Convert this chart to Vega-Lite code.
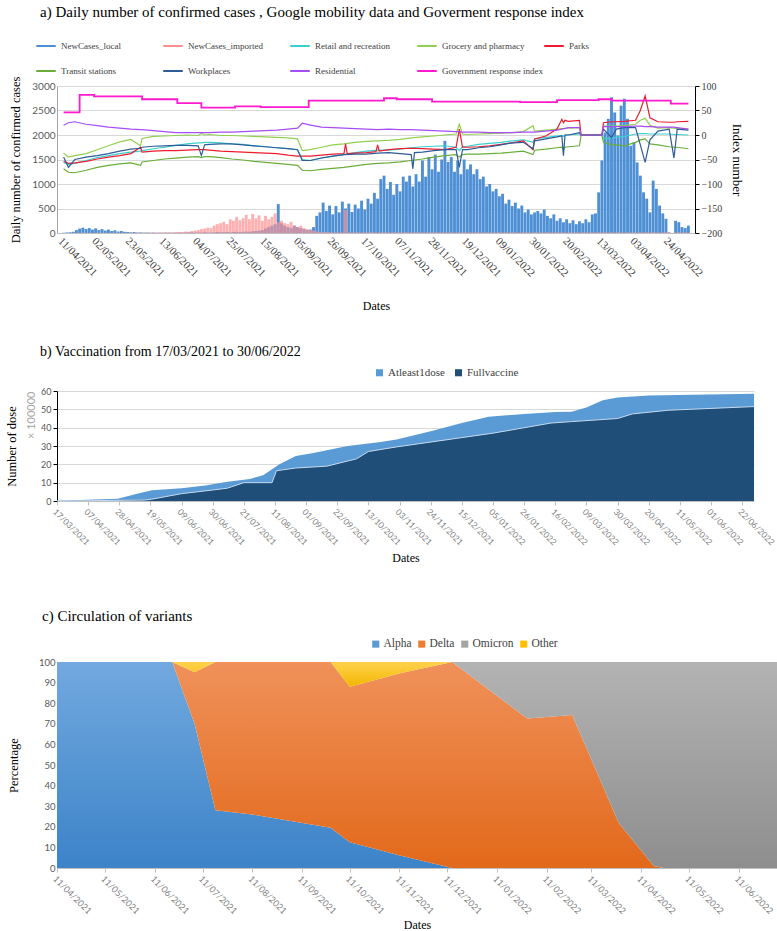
{
"$schema": "https://vega.github.io/schema/vega-lite/v6.json",
"background": "white",
"padding": {"left": 5, "top": 5, "right": 0, "bottom": 0},
"config": {
  "view": {"stroke": null},
  "font": "Liberation Serif",
  "axis": {"labelFont": "Lato", "labelColor": "#595959", "titleFont": "Liberation Serif", "titleFontWeight": "normal", "titleColor": "#000000", "gridColor": "#D9D9D9", "domainColor": "#BFBFBF", "tickColor": "#BFBFBF", "labelFlush": false, "labelOverlap": false},
  "legend": {"labelFont": "Liberation Serif", "labelColor": "#404040"},
  "title": {"font": "Liberation Serif", "fontWeight": "normal", "anchor": "start", "color": "#000000"}
},
"datasets": {
"cases": [
{"date":"2021-04-11","NewCases_local":5,"NewCases_imported":0},
{"date":"2021-04-13","NewCases_local":10,"NewCases_imported":3},
{"date":"2021-04-15","NewCases_local":15,"NewCases_imported":0},
{"date":"2021-04-17","NewCases_local":25,"NewCases_imported":5},
{"date":"2021-04-19","NewCases_local":60,"NewCases_imported":2},
{"date":"2021-04-21","NewCases_local":90,"NewCases_imported":4},
{"date":"2021-04-23","NewCases_local":110,"NewCases_imported":6},
{"date":"2021-04-25","NewCases_local":80,"NewCases_imported":3},
{"date":"2021-04-27","NewCases_local":100,"NewCases_imported":5},
{"date":"2021-04-29","NewCases_local":70,"NewCases_imported":2},
{"date":"2021-05-01","NewCases_local":95,"NewCases_imported":4},
{"date":"2021-05-03","NewCases_local":60,"NewCases_imported":6},
{"date":"2021-05-05","NewCases_local":80,"NewCases_imported":3},
{"date":"2021-05-07","NewCases_local":50,"NewCases_imported":5},
{"date":"2021-05-09","NewCases_local":70,"NewCases_imported":2},
{"date":"2021-05-11","NewCases_local":40,"NewCases_imported":4},
{"date":"2021-05-13","NewCases_local":55,"NewCases_imported":3},
{"date":"2021-05-15","NewCases_local":30,"NewCases_imported":5},
{"date":"2021-05-17","NewCases_local":40,"NewCases_imported":2},
{"date":"2021-05-19","NewCases_local":25,"NewCases_imported":4},
{"date":"2021-05-21","NewCases_local":20,"NewCases_imported":3},
{"date":"2021-05-23","NewCases_local":15,"NewCases_imported":5},
{"date":"2021-05-25","NewCases_local":20,"NewCases_imported":6},
{"date":"2021-05-27","NewCases_local":10,"NewCases_imported":4},
{"date":"2021-05-29","NewCases_local":12,"NewCases_imported":8},
{"date":"2021-05-31","NewCases_local":8,"NewCases_imported":5},
{"date":"2021-06-02","NewCases_local":10,"NewCases_imported":6},
{"date":"2021-06-04","NewCases_local":6,"NewCases_imported":8},
{"date":"2021-06-06","NewCases_local":8,"NewCases_imported":10},
{"date":"2021-06-08","NewCases_local":5,"NewCases_imported":8},
{"date":"2021-06-10","NewCases_local":6,"NewCases_imported":10},
{"date":"2021-06-12","NewCases_local":5,"NewCases_imported":12},
{"date":"2021-06-14","NewCases_local":8,"NewCases_imported":10},
{"date":"2021-06-16","NewCases_local":5,"NewCases_imported":14},
{"date":"2021-06-18","NewCases_local":6,"NewCases_imported":12},
{"date":"2021-06-20","NewCases_local":8,"NewCases_imported":15},
{"date":"2021-06-22","NewCases_local":10,"NewCases_imported":18},
{"date":"2021-06-24","NewCases_local":8,"NewCases_imported":20},
{"date":"2021-06-26","NewCases_local":10,"NewCases_imported":30},
{"date":"2021-06-28","NewCases_local":12,"NewCases_imported":25},
{"date":"2021-06-30","NewCases_local":15,"NewCases_imported":40},
{"date":"2021-07-02","NewCases_local":10,"NewCases_imported":50},
{"date":"2021-07-04","NewCases_local":12,"NewCases_imported":60},
{"date":"2021-07-06","NewCases_local":10,"NewCases_imported":80},
{"date":"2021-07-08","NewCases_local":15,"NewCases_imported":90},
{"date":"2021-07-10","NewCases_local":12,"NewCases_imported":110},
{"date":"2021-07-12","NewCases_local":10,"NewCases_imported":100},
{"date":"2021-07-14","NewCases_local":15,"NewCases_imported":150},
{"date":"2021-07-16","NewCases_local":20,"NewCases_imported":180},
{"date":"2021-07-18","NewCases_local":15,"NewCases_imported":200},
{"date":"2021-07-20","NewCases_local":18,"NewCases_imported":230},
{"date":"2021-07-22","NewCases_local":20,"NewCases_imported":180},
{"date":"2021-07-24","NewCases_local":15,"NewCases_imported":280},
{"date":"2021-07-26","NewCases_local":20,"NewCases_imported":250},
{"date":"2021-07-28","NewCases_local":25,"NewCases_imported":330},
{"date":"2021-07-30","NewCases_local":20,"NewCases_imported":260},
{"date":"2021-08-01","NewCases_local":25,"NewCases_imported":300},
{"date":"2021-08-03","NewCases_local":30,"NewCases_imported":370},
{"date":"2021-08-05","NewCases_local":25,"NewCases_imported":280},
{"date":"2021-08-07","NewCases_local":35,"NewCases_imported":390},
{"date":"2021-08-09","NewCases_local":40,"NewCases_imported":300},
{"date":"2021-08-11","NewCases_local":50,"NewCases_imported":360},
{"date":"2021-08-13","NewCases_local":60,"NewCases_imported":250},
{"date":"2021-08-15","NewCases_local":90,"NewCases_imported":350},
{"date":"2021-08-17","NewCases_local":120,"NewCases_imported":280},
{"date":"2021-08-19","NewCases_local":150,"NewCases_imported":330},
{"date":"2021-08-21","NewCases_local":180,"NewCases_imported":400},
{"date":"2021-08-23","NewCases_local":590,"NewCases_imported":220},
{"date":"2021-08-25","NewCases_local":200,"NewCases_imported":250},
{"date":"2021-08-27","NewCases_local":150,"NewCases_imported":200},
{"date":"2021-08-29","NewCases_local":120,"NewCases_imported":180},
{"date":"2021-08-31","NewCases_local":100,"NewCases_imported":230},
{"date":"2021-09-02","NewCases_local":150,"NewCases_imported":150},
{"date":"2021-09-04","NewCases_local":120,"NewCases_imported":120},
{"date":"2021-09-06","NewCases_local":100,"NewCases_imported":150},
{"date":"2021-09-08","NewCases_local":80,"NewCases_imported":100},
{"date":"2021-09-10","NewCases_local":60,"NewCases_imported":80},
{"date":"2021-09-12","NewCases_local":70,"NewCases_imported":60},
{"date":"2021-09-14","NewCases_local":120,"NewCases_imported":50},
{"date":"2021-09-16","NewCases_local":350,"NewCases_imported":30},
{"date":"2021-09-18","NewCases_local":420,"NewCases_imported":20},
{"date":"2021-09-20","NewCases_local":620,"NewCases_imported":15},
{"date":"2021-09-22","NewCases_local":450,"NewCases_imported":20},
{"date":"2021-09-24","NewCases_local":560,"NewCases_imported":15},
{"date":"2021-09-26","NewCases_local":380,"NewCases_imported":10},
{"date":"2021-09-28","NewCases_local":550,"NewCases_imported":12},
{"date":"2021-09-30","NewCases_local":420,"NewCases_imported":10},
{"date":"2021-10-02","NewCases_local":640,"NewCases_imported":15},
{"date":"2021-10-04","NewCases_local":500,"NewCases_imported":470},
{"date":"2021-10-06","NewCases_local":600,"NewCases_imported":10},
{"date":"2021-10-08","NewCases_local":430,"NewCases_imported":12},
{"date":"2021-10-10","NewCases_local":580,"NewCases_imported":8},
{"date":"2021-10-12","NewCases_local":500,"NewCases_imported":14},
{"date":"2021-10-14","NewCases_local":660,"NewCases_imported":10},
{"date":"2021-10-16","NewCases_local":480,"NewCases_imported":12},
{"date":"2021-10-18","NewCases_local":700,"NewCases_imported":9},
{"date":"2021-10-20","NewCases_local":600,"NewCases_imported":15},
{"date":"2021-10-22","NewCases_local":820,"NewCases_imported":11},
{"date":"2021-10-24","NewCases_local":700,"NewCases_imported":8},
{"date":"2021-10-26","NewCases_local":1100,"NewCases_imported":13},
{"date":"2021-10-28","NewCases_local":1170,"NewCases_imported":10},
{"date":"2021-10-30","NewCases_local":900,"NewCases_imported":12},
{"date":"2021-11-01","NewCases_local":1040,"NewCases_imported":9},
{"date":"2021-11-03","NewCases_local":780,"NewCases_imported":14},
{"date":"2021-11-05","NewCases_local":1000,"NewCases_imported":10},
{"date":"2021-11-07","NewCases_local":850,"NewCases_imported":12},
{"date":"2021-11-09","NewCases_local":1150,"NewCases_imported":8},
{"date":"2021-11-11","NewCases_local":1050,"NewCases_imported":15},
{"date":"2021-11-13","NewCases_local":1170,"NewCases_imported":11},
{"date":"2021-11-15","NewCases_local":950,"NewCases_imported":9},
{"date":"2021-11-17","NewCases_local":1200,"NewCases_imported":13},
{"date":"2021-11-19","NewCases_local":1050,"NewCases_imported":10},
{"date":"2021-11-21","NewCases_local":1480,"NewCases_imported":12},
{"date":"2021-11-23","NewCases_local":1150,"NewCases_imported":8},
{"date":"2021-11-25","NewCases_local":1550,"NewCases_imported":14},
{"date":"2021-11-27","NewCases_local":1300,"NewCases_imported":10},
{"date":"2021-11-29","NewCases_local":1600,"NewCases_imported":12},
{"date":"2021-12-01","NewCases_local":1250,"NewCases_imported":9},
{"date":"2021-12-03","NewCases_local":1500,"NewCases_imported":15},
{"date":"2021-12-05","NewCases_local":1880,"NewCases_imported":11},
{"date":"2021-12-07","NewCases_local":1450,"NewCases_imported":8},
{"date":"2021-12-09","NewCases_local":1550,"NewCases_imported":13},
{"date":"2021-12-11","NewCases_local":1250,"NewCases_imported":10},
{"date":"2021-12-13","NewCases_local":1480,"NewCases_imported":12},
{"date":"2021-12-15","NewCases_local":1200,"NewCases_imported":9},
{"date":"2021-12-17","NewCases_local":1500,"NewCases_imported":14},
{"date":"2021-12-19","NewCases_local":1300,"NewCases_imported":10},
{"date":"2021-12-21","NewCases_local":1400,"NewCases_imported":12},
{"date":"2021-12-23","NewCases_local":1200,"NewCases_imported":8},
{"date":"2021-12-25","NewCases_local":1300,"NewCases_imported":15},
{"date":"2021-12-27","NewCases_local":1100,"NewCases_imported":11},
{"date":"2021-12-29","NewCases_local":1150,"NewCases_imported":9},
{"date":"2021-12-31","NewCases_local":950,"NewCases_imported":13},
{"date":"2022-01-02","NewCases_local":1000,"NewCases_imported":10},
{"date":"2022-01-04","NewCases_local":850,"NewCases_imported":12},
{"date":"2022-01-06","NewCases_local":900,"NewCases_imported":8},
{"date":"2022-01-08","NewCases_local":750,"NewCases_imported":14},
{"date":"2022-01-10","NewCases_local":800,"NewCases_imported":10},
{"date":"2022-01-12","NewCases_local":600,"NewCases_imported":12},
{"date":"2022-01-14","NewCases_local":680,"NewCases_imported":9},
{"date":"2022-01-16","NewCases_local":550,"NewCases_imported":15},
{"date":"2022-01-18","NewCases_local":620,"NewCases_imported":11},
{"date":"2022-01-20","NewCases_local":500,"NewCases_imported":8},
{"date":"2022-01-22","NewCases_local":560,"NewCases_imported":13},
{"date":"2022-01-24","NewCases_local":420,"NewCases_imported":10},
{"date":"2022-01-26","NewCases_local":480,"NewCases_imported":12},
{"date":"2022-01-28","NewCases_local":380,"NewCases_imported":9},
{"date":"2022-01-30","NewCases_local":420,"NewCases_imported":14},
{"date":"2022-02-01","NewCases_local":450,"NewCases_imported":10},
{"date":"2022-02-03","NewCases_local":400,"NewCases_imported":12},
{"date":"2022-02-05","NewCases_local":480,"NewCases_imported":8},
{"date":"2022-02-07","NewCases_local":350,"NewCases_imported":15},
{"date":"2022-02-09","NewCases_local":300,"NewCases_imported":11},
{"date":"2022-02-11","NewCases_local":380,"NewCases_imported":9},
{"date":"2022-02-13","NewCases_local":250,"NewCases_imported":13},
{"date":"2022-02-15","NewCases_local":300,"NewCases_imported":10},
{"date":"2022-02-17","NewCases_local":220,"NewCases_imported":12},
{"date":"2022-02-19","NewCases_local":280,"NewCases_imported":8},
{"date":"2022-02-21","NewCases_local":200,"NewCases_imported":14},
{"date":"2022-02-23","NewCases_local":260,"NewCases_imported":10},
{"date":"2022-02-25","NewCases_local":180,"NewCases_imported":12},
{"date":"2022-02-27","NewCases_local":240,"NewCases_imported":9},
{"date":"2022-03-01","NewCases_local":200,"NewCases_imported":15},
{"date":"2022-03-03","NewCases_local":280,"NewCases_imported":11},
{"date":"2022-03-05","NewCases_local":220,"NewCases_imported":8},
{"date":"2022-03-07","NewCases_local":380,"NewCases_imported":13},
{"date":"2022-03-09","NewCases_local":400,"NewCases_imported":10},
{"date":"2022-03-11","NewCases_local":830,"NewCases_imported":12},
{"date":"2022-03-13","NewCases_local":1480,"NewCases_imported":9},
{"date":"2022-03-15","NewCases_local":2050,"NewCases_imported":14},
{"date":"2022-03-17","NewCases_local":2330,"NewCases_imported":10},
{"date":"2022-03-19","NewCases_local":2770,"NewCases_imported":12},
{"date":"2022-03-21","NewCases_local":2460,"NewCases_imported":8},
{"date":"2022-03-23","NewCases_local":1990,"NewCases_imported":15},
{"date":"2022-03-25","NewCases_local":2600,"NewCases_imported":11},
{"date":"2022-03-27","NewCases_local":2740,"NewCases_imported":9},
{"date":"2022-03-29","NewCases_local":2330,"NewCases_imported":13},
{"date":"2022-03-31","NewCases_local":1780,"NewCases_imported":10},
{"date":"2022-04-02","NewCases_local":1850,"NewCases_imported":12},
{"date":"2022-04-04","NewCases_local":1440,"NewCases_imported":8},
{"date":"2022-04-06","NewCases_local":1170,"NewCases_imported":14},
{"date":"2022-04-08","NewCases_local":830,"NewCases_imported":10},
{"date":"2022-04-10","NewCases_local":700,"NewCases_imported":12},
{"date":"2022-04-12","NewCases_local":420,"NewCases_imported":9},
{"date":"2022-04-14","NewCases_local":1070,"NewCases_imported":15},
{"date":"2022-04-16","NewCases_local":900,"NewCases_imported":11},
{"date":"2022-04-18","NewCases_local":560,"NewCases_imported":8},
{"date":"2022-04-20","NewCases_local":400,"NewCases_imported":13},
{"date":"2022-04-22","NewCases_local":290,"NewCases_imported":10},
{"date":"2022-04-24","NewCases_local":10,"NewCases_imported":12},
{"date":"2022-04-26","NewCases_local":0,"NewCases_imported":0},
{"date":"2022-04-28","NewCases_local":250,"NewCases_imported":9},
{"date":"2022-04-30","NewCases_local":220,"NewCases_imported":14},
{"date":"2022-05-02","NewCases_local":120,"NewCases_imported":10},
{"date":"2022-05-04","NewCases_local":100,"NewCases_imported":12},
{"date":"2022-05-06","NewCases_local":150,"NewCases_imported":8}
],
"mob": [
{"date":"2021-04-11","Residential":20,"Retail and recreation":-56,"Grocery and pharmacy":-37,"Parks":-54,"Transit stations":-69,"Workplaces":-45},
{"date":"2021-04-14","Residential":25,"Retail and recreation":-60,"Grocery and pharmacy":-45,"Parks":-58,"Transit stations":-76,"Workplaces":-66},
{"date":"2021-04-18","Residential":27,"Retail and recreation":-58,"Grocery and pharmacy":-42,"Parks":-57,"Transit stations":-77,"Workplaces":-50},
{"date":"2021-04-25","Residential":22,"Retail and recreation":-52,"Grocery and pharmacy":-38,"Parks":-54,"Transit stations":-72,"Workplaces":-45},
{"date":"2021-05-02","Residential":19,"Retail and recreation":-46,"Grocery and pharmacy":-30,"Parks":-49,"Transit stations":-66,"Workplaces":-42},
{"date":"2021-05-09","Residential":16,"Retail and recreation":-42,"Grocery and pharmacy":-22,"Parks":-45,"Transit stations":-62,"Workplaces":-38},
{"date":"2021-05-16","Residential":14,"Retail and recreation":-38,"Grocery and pharmacy":-14,"Parks":-42,"Transit stations":-59,"Workplaces":-33},
{"date":"2021-05-23","Residential":12,"Retail and recreation":-35,"Grocery and pharmacy":-9,"Parks":-38,"Transit stations":-57,"Workplaces":-29},
{"date":"2021-05-29","Residential":11,"Retail and recreation":-33,"Grocery and pharmacy":-22,"Parks":-25,"Transit stations":-62,"Workplaces":-27},
{"date":"2021-05-30","Residential":11,"Retail and recreation":-32,"Grocery and pharmacy":-7,"Parks":-35,"Transit stations":-55,"Workplaces":-25},
{"date":"2021-06-06","Residential":9,"Retail and recreation":-28,"Grocery and pharmacy":-3,"Parks":-33,"Transit stations":-52,"Workplaces":-23},
{"date":"2021-06-13","Residential":7,"Retail and recreation":-25,"Grocery and pharmacy":-2,"Parks":-32,"Transit stations":-49,"Workplaces":-22},
{"date":"2021-06-20","Residential":5,"Retail and recreation":-21,"Grocery and pharmacy":-1,"Parks":-32,"Transit stations":-47,"Workplaces":-21},
{"date":"2021-06-27","Residential":5,"Retail and recreation":-18,"Grocery and pharmacy":0,"Parks":-31,"Transit stations":-45,"Workplaces":-21},
{"date":"2021-07-04","Residential":5,"Retail and recreation":-16,"Grocery and pharmacy":-1,"Parks":-30,"Transit stations":-44,"Workplaces":-22},
{"date":"2021-07-06","Residential":5,"Retail and recreation":-16,"Grocery and pharmacy":3,"Parks":-30,"Transit stations":-46,"Workplaces":-42},
{"date":"2021-07-08","Residential":5,"Retail and recreation":-15,"Grocery and pharmacy":0,"Parks":-30,"Transit stations":-44,"Workplaces":-20},
{"date":"2021-07-11","Residential":5,"Retail and recreation":-15,"Grocery and pharmacy":1,"Parks":-31,"Transit stations":-44,"Workplaces":-19},
{"date":"2021-07-18","Residential":6,"Retail and recreation":-16,"Grocery and pharmacy":-1,"Parks":-33,"Transit stations":-46,"Workplaces":-18},
{"date":"2021-07-25","Residential":6,"Retail and recreation":-18,"Grocery and pharmacy":-1,"Parks":-34,"Transit stations":-49,"Workplaces":-18},
{"date":"2021-08-01","Residential":7,"Retail and recreation":-19,"Grocery and pharmacy":-2,"Parks":-35,"Transit stations":-51,"Workplaces":-20},
{"date":"2021-08-08","Residential":8,"Retail and recreation":-22,"Grocery and pharmacy":-3,"Parks":-36,"Transit stations":-54,"Workplaces":-22},
{"date":"2021-08-15","Residential":9,"Retail and recreation":-24,"Grocery and pharmacy":-4,"Parks":-37,"Transit stations":-56,"Workplaces":-24},
{"date":"2021-08-22","Residential":10,"Retail and recreation":-26,"Grocery and pharmacy":-5,"Parks":-38,"Transit stations":-58,"Workplaces":-26},
{"date":"2021-08-29","Residential":12,"Retail and recreation":-28,"Grocery and pharmacy":-6,"Parks":-41,"Transit stations":-60,"Workplaces":-28},
{"date":"2021-09-04","Residential":14,"Retail and recreation":-30,"Grocery and pharmacy":-8,"Parks":-43,"Transit stations":-62,"Workplaces":-30},
{"date":"2021-09-07","Residential":24,"Retail and recreation":-50,"Grocery and pharmacy":-32,"Parks":-43,"Transit stations":-72,"Workplaces":-52},
{"date":"2021-09-12","Residential":20,"Retail and recreation":-52,"Grocery and pharmacy":-30,"Parks":-43,"Transit stations":-73,"Workplaces":-52},
{"date":"2021-09-19","Residential":16,"Retail and recreation":-47,"Grocery and pharmacy":-25,"Parks":-41,"Transit stations":-70,"Workplaces":-47},
{"date":"2021-09-26","Residential":15,"Retail and recreation":-43,"Grocery and pharmacy":-20,"Parks":-39,"Transit stations":-68,"Workplaces":-43},
{"date":"2021-10-03","Residential":14,"Retail and recreation":-40,"Grocery and pharmacy":-18,"Parks":-38,"Transit stations":-66,"Workplaces":-40},
{"date":"2021-10-04","Parks":-18},
{"date":"2021-10-05","Parks":-38},
{"date":"2021-10-10","Residential":13,"Retail and recreation":-36,"Grocery and pharmacy":-15,"Parks":-37,"Transit stations":-63,"Workplaces":-39},
{"date":"2021-10-17","Residential":12,"Retail and recreation":-33,"Grocery and pharmacy":-13,"Parks":-36,"Transit stations":-60,"Workplaces":-39},
{"date":"2021-10-23","Parks":-34},
{"date":"2021-10-24","Residential":11,"Retail and recreation":-31,"Grocery and pharmacy":-12,"Parks":-20,"Transit stations":-58,"Workplaces":-37},
{"date":"2021-10-25","Parks":-33},
{"date":"2021-10-31","Residential":12,"Retail and recreation":-31,"Grocery and pharmacy":-11,"Parks":-30,"Transit stations":-57,"Workplaces":-36},
{"date":"2021-11-07","Residential":11,"Retail and recreation":-29,"Grocery and pharmacy":-9,"Parks":-28,"Transit stations":-55,"Workplaces":-38},
{"date":"2021-11-14","Residential":11,"Retail and recreation":-26,"Grocery and pharmacy":-6,"Parks":-27,"Transit stations":-52,"Workplaces":-40},
{"date":"2021-11-15","Workplaces":-69},
{"date":"2021-11-16","Workplaces":-36},
{"date":"2021-11-21","Residential":10,"Retail and recreation":-24,"Grocery and pharmacy":-4,"Parks":-28,"Transit stations":-49,"Workplaces":-35},
{"date":"2021-11-28","Residential":9,"Retail and recreation":-23,"Grocery and pharmacy":-2,"Parks":-29,"Transit stations":-45,"Workplaces":-32},
{"date":"2021-12-05","Residential":8,"Retail and recreation":-22,"Grocery and pharmacy":0,"Parks":-30,"Transit stations":-42,"Workplaces":-30},
{"date":"2021-12-12","Residential":7,"Retail and recreation":-25,"Grocery and pharmacy":2,"Parks":-25,"Transit stations":-40,"Workplaces":-30},
{"date":"2021-12-14","Residential":7,"Retail and recreation":-32,"Grocery and pharmacy":22,"Parks":12,"Transit stations":-45,"Workplaces":-66},
{"date":"2021-12-16","Residential":6,"Retail and recreation":-24,"Grocery and pharmacy":2,"Parks":-25,"Transit stations":-40,"Workplaces":-30},
{"date":"2021-12-19","Residential":6,"Retail and recreation":-23,"Grocery and pharmacy":1,"Parks":-25,"Transit stations":-39,"Workplaces":-30},
{"date":"2021-12-26","Residential":6,"Retail and recreation":-19,"Grocery and pharmacy":2,"Parks":-24,"Transit stations":-39,"Workplaces":-26},
{"date":"2022-01-02","Residential":5,"Retail and recreation":-17,"Grocery and pharmacy":3,"Parks":-22,"Transit stations":-38,"Workplaces":-24},
{"date":"2022-01-09","Residential":5,"Retail and recreation":-15,"Grocery and pharmacy":4,"Parks":-19,"Transit stations":-37,"Workplaces":-20},
{"date":"2022-01-16","Residential":5,"Retail and recreation":-12,"Grocery and pharmacy":5,"Parks":-16,"Transit stations":-35,"Workplaces":-16},
{"date":"2022-01-23","Residential":6,"Retail and recreation":-10,"Grocery and pharmacy":7,"Parks":-12,"Transit stations":-33,"Workplaces":-15},
{"date":"2022-01-29","Residential":6,"Retail and recreation":-15,"Grocery and pharmacy":19,"Parks":-30,"Transit stations":-40,"Workplaces":-28},
{"date":"2022-01-30","Residential":6,"Retail and recreation":-8,"Grocery and pharmacy":8,"Parks":-8,"Transit stations":-31,"Workplaces":-12},
{"date":"2022-02-06","Residential":8,"Retail and recreation":-5,"Grocery and pharmacy":10,"Parks":-2,"Transit stations":-29,"Workplaces":-8},
{"date":"2022-02-13","Residential":10,"Retail and recreation":-2,"Grocery and pharmacy":12,"Parks":12,"Transit stations":-26,"Workplaces":-4},
{"date":"2022-02-16","Residential":12,"Retail and recreation":-1,"Grocery and pharmacy":13,"Parks":32,"Transit stations":-25,"Workplaces":-2},
{"date":"2022-02-17","Residential":13,"Retail and recreation":-3,"Grocery and pharmacy":13,"Parks":25,"Transit stations":-30,"Workplaces":-42},
{"date":"2022-02-18","Residential":13,"Retail and recreation":0,"Grocery and pharmacy":14,"Parks":30,"Transit stations":-25,"Workplaces":0},
{"date":"2022-02-20","Residential":15,"Retail and recreation":0,"Grocery and pharmacy":14,"Parks":28,"Transit stations":-24,"Workplaces":0},
{"date":"2022-02-27","Residential":15,"Retail and recreation":2,"Grocery and pharmacy":15,"Parks":30,"Transit stations":-22,"Workplaces":5},
{"date":"2022-02-28","Residential":0,"Retail and recreation":0,"Grocery and pharmacy":0,"Parks":0,"Transit stations":0,"Workplaces":0},
{"date":"2022-03-13","Residential":0,"Retail and recreation":0,"Grocery and pharmacy":0,"Parks":0,"Transit stations":0,"Workplaces":0},
{"date":"2022-03-14","Residential":17,"Retail and recreation":-8,"Grocery and pharmacy":18,"Parks":25,"Transit stations":-15,"Workplaces":12},
{"date":"2022-03-19","Residential":17,"Retail and recreation":-6,"Grocery and pharmacy":18,"Parks":27,"Transit stations":-20,"Workplaces":-5},
{"date":"2022-03-22","Residential":17,"Retail and recreation":-5,"Grocery and pharmacy":18,"Parks":27,"Transit stations":-20,"Workplaces":12},
{"date":"2022-03-27","Residential":17,"Retail and recreation":-3,"Grocery and pharmacy":19,"Parks":28,"Transit stations":-22,"Workplaces":15},
{"date":"2022-04-03","Residential":18,"Retail and recreation":2,"Grocery and pharmacy":22,"Parks":30,"Transit stations":-15,"Workplaces":15},
{"date":"2022-04-06","Residential":18,"Retail and recreation":3,"Grocery and pharmacy":30,"Parks":50,"Transit stations":-10,"Workplaces":-20},
{"date":"2022-04-09","Residential":17,"Retail and recreation":3,"Grocery and pharmacy":34,"Parks":80,"Transit stations":-8,"Workplaces":-56},
{"date":"2022-04-12","Residential":17,"Retail and recreation":2,"Grocery and pharmacy":20,"Parks":35,"Transit stations":-18,"Workplaces":-10},
{"date":"2022-04-17","Residential":16,"Retail and recreation":2,"Grocery and pharmacy":14,"Parks":27,"Transit stations":-20,"Workplaces":8},
{"date":"2022-04-24","Residential":16,"Retail and recreation":2,"Grocery and pharmacy":15,"Parks":26,"Transit stations":-24,"Workplaces":12},
{"date":"2022-04-27","Residential":16,"Retail and recreation":1,"Grocery and pharmacy":14,"Parks":26,"Transit stations":-25,"Workplaces":-47},
{"date":"2022-04-29","Residential":15,"Retail and recreation":1,"Grocery and pharmacy":13,"Parks":27,"Transit stations":-25,"Workplaces":12},
{"date":"2022-05-06","Residential":12,"Retail and recreation":0,"Grocery and pharmacy":12,"Parks":28,"Transit stations":-28,"Workplaces":10}
],
"gov": [
{"date":"2021-04-11","key":"Government response index","value":46},
{"date":"2021-04-21","key":"Government response index","value":82},
{"date":"2021-04-30","key":"Government response index","value":79},
{"date":"2021-05-30","key":"Government response index","value":73},
{"date":"2021-06-21","key":"Government response index","value":65},
{"date":"2021-07-06","key":"Government response index","value":56},
{"date":"2021-07-27","key":"Government response index","value":58.5},
{"date":"2021-08-12","key":"Government response index","value":57},
{"date":"2021-09-11","key":"Government response index","value":70},
{"date":"2021-10-28","key":"Government response index","value":75},
{"date":"2021-11-05","key":"Government response index","value":73},
{"date":"2021-11-27","key":"Government response index","value":68},
{"date":"2022-01-21","key":"Government response index","value":67},
{"date":"2022-02-13","key":"Government response index","value":71},
{"date":"2022-03-11","key":"Government response index","value":73},
{"date":"2022-03-19","key":"Government response index","value":70},
{"date":"2022-04-25","key":"Government response index","value":64},
{"date":"2022-05-06","key":"Government response index","value":64}
],
"vacc": [
{"date":"2021-03-17","s":"Atleast1dose","v":0.2},
{"date":"2021-04-27","s":"Atleast1dose","v":1.2},
{"date":"2021-05-10","s":"Atleast1dose","v":4},
{"date":"2021-05-20","s":"Atleast1dose","v":5.8},
{"date":"2021-06-09","s":"Atleast1dose","v":7},
{"date":"2021-06-25","s":"Atleast1dose","v":8.5},
{"date":"2021-07-10","s":"Atleast1dose","v":10.5},
{"date":"2021-07-25","s":"Atleast1dose","v":12},
{"date":"2021-08-03","s":"Atleast1dose","v":14},
{"date":"2021-08-14","s":"Atleast1dose","v":20},
{"date":"2021-08-25","s":"Atleast1dose","v":24.5},
{"date":"2021-09-05","s":"Atleast1dose","v":26},
{"date":"2021-09-29","s":"Atleast1dose","v":30},
{"date":"2021-10-20","s":"Atleast1dose","v":32},
{"date":"2021-11-01","s":"Atleast1dose","v":33.5},
{"date":"2021-11-24","s":"Atleast1dose","v":38},
{"date":"2021-12-15","s":"Atleast1dose","v":42.5},
{"date":"2022-01-02","s":"Atleast1dose","v":46},
{"date":"2022-01-26","s":"Atleast1dose","v":47.5},
{"date":"2022-02-16","s":"Atleast1dose","v":48.5},
{"date":"2022-02-27","s":"Atleast1dose","v":48.7},
{"date":"2022-03-09","s":"Atleast1dose","v":51},
{"date":"2022-03-20","s":"Atleast1dose","v":55},
{"date":"2022-03-30","s":"Atleast1dose","v":56.5},
{"date":"2022-04-20","s":"Atleast1dose","v":57.5},
{"date":"2022-05-20","s":"Atleast1dose","v":58},
{"date":"2022-06-30","s":"Atleast1dose","v":58.5},
{"date":"2021-03-17","s":"Fullvaccine","v":0},
{"date":"2021-05-15","s":"Fullvaccine","v":0.5},
{"date":"2021-05-20","s":"Fullvaccine","v":1},
{"date":"2021-06-09","s":"Fullvaccine","v":4},
{"date":"2021-06-30","s":"Fullvaccine","v":6},
{"date":"2021-07-10","s":"Fullvaccine","v":7},
{"date":"2021-07-21","s":"Fullvaccine","v":10},
{"date":"2021-08-09","s":"Fullvaccine","v":10},
{"date":"2021-08-12","s":"Fullvaccine","v":16.5},
{"date":"2021-08-25","s":"Fullvaccine","v":18},
{"date":"2021-09-15","s":"Fullvaccine","v":19},
{"date":"2021-10-05","s":"Fullvaccine","v":23},
{"date":"2021-10-13","s":"Fullvaccine","v":27},
{"date":"2021-11-01","s":"Fullvaccine","v":29.5},
{"date":"2022-01-05","s":"Fullvaccine","v":37},
{"date":"2022-02-13","s":"Fullvaccine","v":42.5},
{"date":"2022-02-27","s":"Fullvaccine","v":43.3},
{"date":"2022-03-30","s":"Fullvaccine","v":45},
{"date":"2022-04-09","s":"Fullvaccine","v":47.5},
{"date":"2022-05-03","s":"Fullvaccine","v":49.5},
{"date":"2022-06-01","s":"Fullvaccine","v":50.5},
{"date":"2022-06-30","s":"Fullvaccine","v":51.5}
],
"variants": [
{"date":"2021-04-11","s":"Alpha","p":100},{"date":"2021-04-11","s":"Delta","p":0},{"date":"2021-04-11","s":"Omicron","p":0},{"date":"2021-04-11","s":"Other","p":0},
{"date":"2021-06-22","s":"Alpha","p":100},{"date":"2021-06-22","s":"Delta","p":0},{"date":"2021-06-22","s":"Omicron","p":0},{"date":"2021-06-22","s":"Other","p":0},
{"date":"2021-07-06","s":"Alpha","p":70},{"date":"2021-07-06","s":"Delta","p":25},{"date":"2021-07-06","s":"Omicron","p":0},{"date":"2021-07-06","s":"Other","p":5},
{"date":"2021-07-19","s":"Alpha","p":28},{"date":"2021-07-19","s":"Delta","p":72},{"date":"2021-07-19","s":"Omicron","p":0},{"date":"2021-07-19","s":"Other","p":0},
{"date":"2021-08-11","s":"Alpha","p":26},{"date":"2021-08-11","s":"Delta","p":74},{"date":"2021-08-11","s":"Omicron","p":0},{"date":"2021-08-11","s":"Other","p":0},
{"date":"2021-09-29","s":"Alpha","p":19.5},{"date":"2021-09-29","s":"Delta","p":80.5},{"date":"2021-09-29","s":"Omicron","p":0},{"date":"2021-09-29","s":"Other","p":0},
{"date":"2021-10-11","s":"Alpha","p":12.5},{"date":"2021-10-11","s":"Delta","p":75.5},{"date":"2021-10-11","s":"Omicron","p":0},{"date":"2021-10-11","s":"Other","p":12},
{"date":"2021-11-12","s":"Alpha","p":6},{"date":"2021-11-12","s":"Delta","p":88.6},{"date":"2021-11-12","s":"Omicron","p":0},{"date":"2021-11-12","s":"Other","p":5.4},
{"date":"2021-12-14","s":"Alpha","p":0},{"date":"2021-12-14","s":"Delta","p":100},{"date":"2021-12-14","s":"Omicron","p":0},{"date":"2021-12-14","s":"Other","p":0},
{"date":"2022-01-30","s":"Alpha","p":0},{"date":"2022-01-30","s":"Delta","p":72.6},{"date":"2022-01-30","s":"Omicron","p":27.4},{"date":"2022-01-30","s":"Other","p":0},
{"date":"2022-02-27","s":"Alpha","p":0},{"date":"2022-02-27","s":"Delta","p":74.3},{"date":"2022-02-27","s":"Omicron","p":25.7},{"date":"2022-02-27","s":"Other","p":0},
{"date":"2022-03-28","s":"Alpha","p":0},{"date":"2022-03-28","s":"Delta","p":22},{"date":"2022-03-28","s":"Omicron","p":78},{"date":"2022-03-28","s":"Other","p":0},
{"date":"2022-04-19","s":"Alpha","p":0},{"date":"2022-04-19","s":"Delta","p":1},{"date":"2022-04-19","s":"Omicron","p":99},{"date":"2022-04-19","s":"Other","p":0},
{"date":"2022-04-25","s":"Alpha","p":0},{"date":"2022-04-25","s":"Delta","p":0},{"date":"2022-04-25","s":"Omicron","p":100},{"date":"2022-04-25","s":"Other","p":0},
{"date":"2022-07-05","s":"Alpha","p":0},{"date":"2022-07-05","s":"Delta","p":0},{"date":"2022-07-05","s":"Omicron","p":100},{"date":"2022-07-05","s":"Other","p":0}
]
},
"resolve": {"scale": {"color": "independent", "x": "independent", "y": "independent"}},
"spacing": 33,
"vconcat": [
{
  "width": 638, "height": 147,
  "title": {"text": "a) Daily number of confirmed cases , Google mobility data and Goverment response index", "fontSize": 15, "frame": "group", "dx": -17, "offset": 15},
  "resolve": {"scale": {"y": "independent"}},
  "encoding": {
    "x": {"field": "date", "type": "temporal",
          "scale": {"type": "utc", "domain": [{"year":2021,"month":4,"date":10,"utc":true},{"year":2022,"month":5,"date":7,"utc":true}]},
          "axis": {"values": [
            {"year":2021,"month":4,"date":11,"utc":true},{"year":2021,"month":5,"date":2,"utc":true},{"year":2021,"month":5,"date":23,"utc":true},
            {"year":2021,"month":6,"date":13,"utc":true},{"year":2021,"month":7,"date":4,"utc":true},{"year":2021,"month":7,"date":25,"utc":true},
            {"year":2021,"month":8,"date":15,"utc":true},{"year":2021,"month":9,"date":5,"utc":true},{"year":2021,"month":9,"date":26,"utc":true},
            {"year":2021,"month":10,"date":17,"utc":true},{"year":2021,"month":11,"date":7,"utc":true},{"year":2021,"month":11,"date":28,"utc":true},
            {"year":2021,"month":12,"date":19,"utc":true},{"year":2022,"month":1,"date":9,"utc":true},{"year":2022,"month":1,"date":30,"utc":true},
            {"year":2022,"month":2,"date":20,"utc":true},{"year":2022,"month":3,"date":13,"utc":true},{"year":2022,"month":4,"date":3,"utc":true},
            {"year":2022,"month":4,"date":24,"utc":true}],
            "format": "%d/%m/%Y", "labelAngle": 45, "labelFont": "Liberation Serif", "labelFontSize": 11, "labelColor": "#404040",
            "title": "Dates", "titleFontSize": 12, "titlePadding": 22, "grid": false, "ticks": false, "domainColor": "#BFBFBF"}}
  },
  "layer": [
    {
      "data": {"name": "cases"},
      "transform": [{"fold": ["NewCases_local", "NewCases_imported"], "as": ["key", "value"]}],
      "mark": {"type": "bar", "width": 2.9},
      "encoding": {
        "y": {"field": "value", "type": "quantitative", "stack": null, "scale": {"domain": [0, 3000]},
              "axis": {"orient": "left", "values": [0,500,1000,1500,2000,2500,3000], "format": "d", "title": "Daily number of confirmed cases", "titleFontSize": 12.5, "titlePadding": 9, "labelFontSize": 10, "grid": true, "ticks": false, "domainColor": "#A6A6A6"}},
        "color": {"field": "key", "type": "nominal",
                  "scale": {"domain": ["NewCases_local","NewCases_imported","Retail and recreation","Grocery and pharmacy","Parks","Transit stations","Workplaces","Residential","Government response index"],
                            "range": ["#4F90D5","#FF8F8F","#3CCFCF","#92D050","#EE1C2E","#6AAE3A","#2F5C97","#A64DF5","#FF19CF"]},
                  "legend": {"orient": "none", "legendX": -22, "legendY": -51, "direction": "horizontal", "columns": 5, "gridAlign": "all", "columnPadding": -6, "rowPadding": 9,
                             "title": null, "labelFontSize": 9, "labelFont": "Liberation Serif", "labelColor": "#404040", "symbolSize": 380, "symbolStrokeWidth": 2, "symbolType": "stroke", "labelOffset": 4,
                             "encode": {"symbols": {
                               "enter": {"shape": {"signal": "datum.value === 'NewCases_local' || datum.value === 'NewCases_imported' ? 'M-1,-0.33H1V0.33H-1Z' : 'stroke'"}},
                               "update": {
                               "shape": {"signal": "datum.value === 'NewCases_local' || datum.value === 'NewCases_imported' ? 'M-1,-0.33H1V0.33H-1Z' : 'stroke'"},
                               "stroke": {"signal": "({'NewCases_local':'#5B9BD5','NewCases_imported':'#FF8F8F','Retail and recreation':'#3CCFCF','Grocery and pharmacy':'#92D050','Parks':'#EE1C2E','Transit stations':'#6AAE3A','Workplaces':'#2F5C97','Residential':'#A64DF5','Government response index':'#FF19CF'})[datum.value]"},
                               "fill": {"value": "transparent"},
                               "strokeWidth": {"signal": "datum.value === 'NewCases_local' || datum.value === 'NewCases_imported' ? 1.3 : 2"},
                               "opacity": {"value": 1}}}}}},
        "opacity": {"condition": {"test": "datum.key === 'NewCases_imported'", "value": 0.7}, "value": 1}
      }
    },
    {
      "encoding": {
        "y": {"field": "value", "type": "quantitative", "scale": {"domain": [-200, 100]},
              "axis": {"orient": "right", "values": [-200,-150,-100,-50,0,50,100], "title": "Index number", "titleFontSize": 13, "titlePadding": 8, "labelFontSize": 10, "labelColor": "#404040", "labelFont": "Liberation Serif", "grid": false, "domainColor": "#000000", "tickColor": "#000000", "ticks": true, "tickSize": 4}},
        "color": {"field": "key", "type": "nominal",
                  "scale": {"domain": ["NewCases_local","NewCases_imported","Retail and recreation","Grocery and pharmacy","Parks","Transit stations","Workplaces","Residential","Government response index"],
                            "range": ["#4F90D5","#FF8F8F","#3CCFCF","#92D050","#EE1C2E","#6AAE3A","#2F5C97","#A64DF5","#FF19CF"]},
                  "legend": null}
      },
      "layer": [
        {
          "data": {"name": "mob"},
          "transform": [{"fold": ["Retail and recreation","Grocery and pharmacy","Parks","Transit stations","Workplaces","Residential"], "as": ["key", "value"]}, {"filter": "isValid(datum.value)"}],
          "mark": {"type": "line", "strokeWidth": 1.2}
        },
        {
          "data": {"name": "gov"},
          "mark": {"type": "line", "strokeWidth": 1.8, "interpolate": "step-after"}
        }
      ]
    }
  ]
},
{
  "resolve": {"scale": {"color": "independent", "x": "independent", "y": "independent"}},
  "spacing": 44,
  "vconcat": [
    {
      "width": 697, "height": 110,
      "title": {"text": "b) Vaccination from 17/03/2021 to 30/06/2022", "fontSize": 14, "frame": "group", "dx": -17, "offset": 8},
      "data": {"name": "vacc"},
      "resolve": {"axis": {"y": "independent"}},
      "encoding": {
        "x": {"field": "date", "type": "temporal",
              "scale": {"type": "utc", "domain": [{"year":2021,"month":3,"date":17,"utc":true},{"year":2022,"month":6,"date":30,"utc":true}]},
              "axis": {"values": [
                {"year":2021,"month":3,"date":17,"utc":true},{"year":2021,"month":4,"date":7,"utc":true},{"year":2021,"month":4,"date":28,"utc":true},
                {"year":2021,"month":5,"date":19,"utc":true},{"year":2021,"month":6,"date":9,"utc":true},{"year":2021,"month":6,"date":30,"utc":true},
                {"year":2021,"month":7,"date":21,"utc":true},{"year":2021,"month":8,"date":11,"utc":true},{"year":2021,"month":9,"date":1,"utc":true},
                {"year":2021,"month":9,"date":22,"utc":true},{"year":2021,"month":10,"date":13,"utc":true},{"year":2021,"month":11,"date":3,"utc":true},
                {"year":2021,"month":11,"date":24,"utc":true},{"year":2021,"month":12,"date":15,"utc":true},{"year":2022,"month":1,"date":5,"utc":true},
                {"year":2022,"month":1,"date":26,"utc":true},{"year":2022,"month":2,"date":16,"utc":true},{"year":2022,"month":3,"date":9,"utc":true},
                {"year":2022,"month":3,"date":30,"utc":true},{"year":2022,"month":4,"date":20,"utc":true},{"year":2022,"month":5,"date":11,"utc":true},
                {"year":2022,"month":6,"date":1,"utc":true},{"year":2022,"month":6,"date":22,"utc":true}],
                "format": "%d/%m/%Y", "labelAngle": 45, "labelFontSize": 8.5, "labelColor": "#7F7F7F", "title": "Dates", "titleFontSize": 12, "titlePadding": 6,
                "grid": false, "ticks": true, "tickSize": 4, "domainColor": "#BFBFBF"}}
      },
      "layer": [
        {
          "mark": {"type": "area"},
          "encoding": {
            "y": {"field": "v", "type": "quantitative", "stack": null, "scale": {"domain": [0, 60]},
                  "axis": {"orient": "left", "values": [0,10,20,30,40,50,60], "title": "× 100000", "titleColor": "#A6A6A6", "titleFont": "Lato", "titleFontSize": 11, "titleAnchor": "end", "titlePadding": 4,
                           "labelFontSize": 9, "grid": true, "domainColor": "#000000", "tickColor": "#000000", "ticks": true, "tickSize": 4}},
            "color": {"field": "s", "type": "nominal", "scale": {"domain": ["Atleast1dose", "Fullvaccine"], "range": ["#5B9BD5", "#1F4E79"]},
                      "legend": {"orient": "none", "legendX": 317, "legendY": -24, "direction": "horizontal", "title": null, "symbolType": "square", "symbolSize": 50, "symbolStrokeWidth": 0,
                                 "labelFontSize": 11, "labelFont": "Liberation Serif", "labelColor": "#404040", "columnPadding": 8, "labelOffset": 3}}
          }
        },
        {
          "transform": [{"filter": "datum.s === 'Fullvaccine'"}],
          "mark": {"type": "line", "color": "#C5DAEF", "strokeWidth": 1},
          "encoding": {
            "y": {"field": "v", "type": "quantitative", "axis": {"orient": "left", "offset": 37, "title": "Number of dose", "titleFontSize": 12.5, "labels": false, "ticks": false, "domain": false, "grid": false, "titlePadding": 2}}
          }
        }
      ]
    },
    {
      "width": 720, "height": 206,
      "title": {"text": "c) Circulation of variants", "fontSize": 15, "frame": "group", "dx": -15, "offset": 14},
      "data": {"name": "variants"},
      "view": {"stroke": "#D9D9D9"},
      "encoding": {
        "x": {"field": "date", "type": "temporal",
              "scale": {"type": "utc", "domain": [{"year":2021,"month":4,"date":11,"utc":true},{"year":2022,"month":7,"date":5,"utc":true}]},
              "axis": {"values": [
                {"year":2021,"month":4,"date":11,"utc":true},{"year":2021,"month":5,"date":11,"utc":true},{"year":2021,"month":6,"date":11,"utc":true},
                {"year":2021,"month":7,"date":11,"utc":true},{"year":2021,"month":8,"date":11,"utc":true},{"year":2021,"month":9,"date":11,"utc":true},
                {"year":2021,"month":10,"date":11,"utc":true},{"year":2021,"month":11,"date":11,"utc":true},{"year":2021,"month":12,"date":11,"utc":true},
                {"year":2022,"month":1,"date":11,"utc":true},{"year":2022,"month":2,"date":11,"utc":true},{"year":2022,"month":3,"date":11,"utc":true},
                {"year":2022,"month":4,"date":11,"utc":true},{"year":2022,"month":5,"date":11,"utc":true},{"year":2022,"month":6,"date":11,"utc":true}],
                "format": "%d/%m/%Y", "labelAngle": 45, "labelFontSize": 9, "labelColor": "#7F7F7F", "title": "Dates", "titleFontSize": 12, "titlePadding": 4,
                "grid": false, "ticks": true, "tickSize": 4, "domainColor": "#BFBFBF"}}
      },
      "layer": [
        {
          "mark": {"type": "area"},
          "encoding": {
            "y": {"field": "p", "type": "quantitative", "stack": "zero", "scale": {"domain": [0, 100]},
                  "axis": {"values": [0,10,20,30,40,50,60,70,80,90,100], "title": "Percentage", "titleFontSize": 12.5, "titlePadding": 18, "labelFontSize": 9.5, "grid": false, "domain": false, "ticks": false}},
            "order": {"field": "s", "type": "ordinal", "sort": "ascending"},
            "detail": {"field": "s", "type": "nominal"},
            "fill": {"condition": [
              {"test": "datum.s === 'Alpha'", "value": {"gradient": "linear", "x1": 0, "y1": 0, "x2": 0, "y2": 1, "stops": [{"offset": 0, "color": "#72A9DF"}, {"offset": 1, "color": "#3C83C8"}]}},
              {"test": "datum.s === 'Delta'", "value": {"gradient": "linear", "x1": 0, "y1": 0, "x2": 0, "y2": 1, "stops": [{"offset": 0, "color": "#F0915A"}, {"offset": 1, "color": "#E2691B"}]}},
              {"test": "datum.s === 'Omicron'", "value": {"gradient": "linear", "x1": 0, "y1": 0, "x2": 0, "y2": 1, "stops": [{"offset": 0, "color": "#B3B3B3"}, {"offset": 1, "color": "#8E8E8E"}]}}],
              "value": {"gradient": "linear", "x1": 0, "y1": 0, "x2": 0, "y2": 1, "stops": [{"offset": 0, "color": "#FFD24D"}, {"offset": 1, "color": "#F2B600"}]}}
          }
        },
        {
          "mark": {"type": "square", "opacity": 0},
          "encoding": {
            "y": {"field": "p", "type": "quantitative", "stack": null,
                  "axis": {"values": [0,10,20,30,40,50,60,70,80,90,100], "title": "Percentage", "titleFontSize": 12.5, "titlePadding": 18, "labelFontSize": 9.5, "grid": false, "domain": false, "ticks": false}},
            "color": {"field": "s", "type": "nominal", "scale": {"domain": ["Alpha", "Delta", "Omicron", "Other"], "range": ["#5B9BD5", "#ED7D31", "#A5A5A5", "#FFC000"]},
                      "legend": {"orient": "none", "legendX": 313, "legendY": -24, "direction": "horizontal", "title": null, "symbolType": "square", "symbolSize": 50, "symbolStrokeWidth": 0, "symbolOpacity": 1,
                                 "labelFontSize": 11.5, "labelFont": "Liberation Serif", "labelColor": "#404040", "columnPadding": 4, "labelOffset": 2,
                                 "encode": {"symbols": {"update": {"opacity": {"value": 1}, "fillOpacity": {"value": 1}}}}}}
          }
        }
      ]
    }
  ]
}
]
}
